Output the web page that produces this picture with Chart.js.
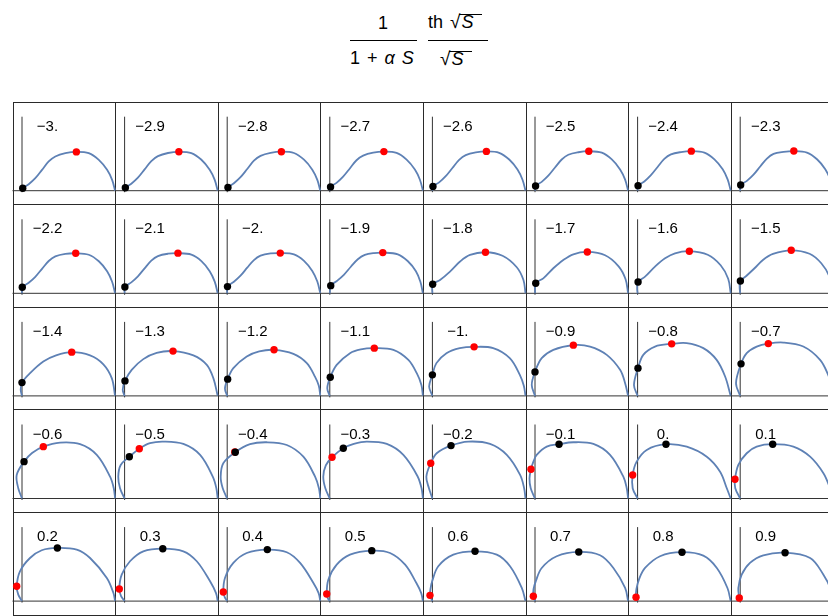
<!DOCTYPE html>
<html lang="en">
<head>
<meta charset="UTF-8">
<title>Warburg term with a first-order factor</title>
<script src="https://cdn.jsdelivr.net/npm/chart.js"></script>
<style>
    body {
        margin: 0;
        width: 828px;
        height: 616px;
        overflow: hidden;
        position: relative;
        background: #ffffff;
        font-family: 'Liberation Sans', Arial, Helvetica, sans-serif;
        color: #000;
    }
    canvas { position: absolute; }
    .gl { position: absolute; background: #2a2a2a; }
    .cell-label {
        position: absolute;
        width: 60px;
        text-align: center;
        font-size: 15px;
        line-height: 15px;
        white-space: nowrap;
    }
    /* formula heading */
    .fx { position: absolute; font-size: 18px; line-height: 20px; white-space: nowrap; word-spacing: 2px; }
    .fx i { font-style: italic; }
    .bar { position: absolute; height: 1px; background: #000; }
    .rad { font-size: 19px; }
    .ovl { position: relative; padding: 0 2px 0 1px; }
    .ovl::before {
        content: '';
        position: absolute;
        left: -1px; right: 0; top: 2px;
        border-top: 1px solid #000;
    }
</style>
</head>
<body>

<!-- heading: 1/(1+αS) · th√S/√S -->
<span class="fx" style="left:378px; top:13px">1</span>
<div class="bar" style="left:350px; top:40px; width:67px"></div>
<span class="fx" style="left:350px; top:48px">1 + <i>α</i> <i>S</i></span>

<span class="fx" style="left:428px; top:12px">th <span class="rad">√</span><span class="ovl"><i>S</i>&nbsp;</span></span>
<div class="bar" style="left:428px; top:40px; width:60px"></div>
<span class="fx" style="left:440px; top:49px"><span class="rad">√</span><span class="ovl"><i>S</i>&nbsp;</span></span>

<div id="grid"></div>

<script>
// parameter value shown in each cell
const alphaLabels = [
    '−3.', '−2.9', '−2.8', '−2.7', '−2.6', '−2.5', '−2.4', '−2.3',
    '−2.2', '−2.1', '−2.', '−1.9', '−1.8', '−1.7', '−1.6', '−1.5',
    '−1.4', '−1.3', '−1.2', '−1.1', '−1.', '−0.9', '−0.8', '−0.7',
    '−0.6', '−0.5', '−0.4', '−0.3', '−0.2', '−0.1', '0.', '0.1',
    '0.2', '0.3', '0.4', '0.5', '0.6', '0.7', '0.8', '0.9'
];

// traced curve of each cell, [re, im] pairs from the origin to 1
const curves = [
    // row 1
    [[0,0],[.008,.027],[.072,.070],[.143,.134],[.215,.224],[.287,.314],[.358,.368],[.466,.403],[.584,.417],[.717,.403],[.825,.331],[.914,.224],[.968,.116],[1,0]],
    [[0,0],[.008,.032],[.072,.075],[.143,.140],[.215,.229],[.287,.318],[.358,.371],[.466,.405],[.583,.418],[.717,.404],[.825,.332],[.914,.225],[.968,.117],[1,0]],
    [[0,0],[.008,.035],[.072,.080],[.143,.145],[.215,.233],[.287,.323],[.358,.374],[.466,.406],[.582,.419],[.717,.405],[.825,.333],[.914,.226],[.968,.117],[1,0]],
    [[0,0],[.008,.040],[.072,.084],[.143,.151],[.215,.239],[.287,.327],[.358,.377],[.466,.409],[.581,.420],[.717,.406],[.825,.334],[.914,.227],[.968,.118],[1,0]],
    [[0,0],[.006,.046],[.072,.089],[.143,.156],[.215,.244],[.287,.331],[.358,.382],[.466,.411],[.580,.422],[.717,.407],[.825,.335],[.914,.228],[.968,.118],[1,0]],
    [[0,0],[.006,.051],[.072,.095],[.143,.161],[.215,.249],[.287,.335],[.358,.386],[.466,.413],[.578,.424],[.717,.408],[.825,.336],[.914,.229],[.968,.119],[1,0]],
    [[0,0],[.005,.054],[.072,.099],[.143,.167],[.215,.255],[.287,.341],[.358,.390],[.466,.415],[.577,.425],[.717,.409],[.825,.337],[.914,.230],[.968,.119],[1,0]],
    [[0,0],[.005,.061],[.072,.106],[.143,.172],[.215,.260],[.287,.345],[.358,.395],[.466,.417],[.576,.426],[.717,.410],[.825,.338],[.914,.231],[.968,.120],[1,0]],
    // row 2
    [[0,0],[.003,.065],[.072,.113],[.143,.177],[.215,.263],[.287,.347],[.358,.396],[.466,.423],[.577,.430],[.717,.414],[.825,.344],[.914,.237],[.968,.124],[1,0]],
    [[0,0],[.003,.068],[.072,.117],[.143,.182],[.215,.268],[.287,.351],[.358,.400],[.466,.425],[.573,.431],[.717,.416],[.825,.346],[.914,.238],[.968,.125],[1,0]],
    [[0,0],[.003,.072],[.072,.124],[.143,.189],[.215,.275],[.287,.357],[.358,.404],[.466,.428],[.570,.432],[.717,.419],[.825,.349],[.914,.240],[.968,.126],[1,0]],
    [[0,0],[.010,.082],[.075,.132],[.151,.199],[.226,.285],[.301,.366],[.376,.412],[.473,.432],[.569,.437],[.731,.419],[.839,.344],[.925,.237],[.973,.124],[1,0]],
    [[0,0],[.003,.097],[.082,.143],[.189,.233],[.297,.341],[.404,.412],[.570,.441],[.753,.403],[.906,.280],[.978,.143],[1,0]],
    [[0,0],[.008,.108],[.089,.161],[.197,.269],[.304,.358],[.412,.419],[.562,.444],[.753,.409],[.898,.290],[.973,.151],[1,0]],
    [[0,0],[-.005,.054],[.005,.122],[.080,.180],[.187,.287],[.295,.376],[.402,.430],[.556,.452],[.753,.414],[.892,.301],[.973,.156],[1,0]],
    [[0,0],[-.006,.065],[.002,.132],[.065,.186],[.154,.269],[.244,.358],[.352,.423],[.548,.462],[.745,.425],[.871,.323],[.957,.183],[1,0]],
    // row 3
    [[0,0],[-.014,.065],[0,.143],[.086,.244],[.229,.369],[.366,.435],[.534,.470],[.731,.435],[.874,.339],[.965,.188],[1,0]],
    [[0,0],[-.020,.065],[.004,.161],[.076,.280],[.201,.395],[.344,.462],[.520,.481],[.739,.435],[.883,.333],[.954,.188],[1,0]],
    [[0,0],[-.024,.078],[.005,.180],[.066,.298],[.210,.423],[.344,.478],[.503,.495],[.711,.452],[.855,.352],[.944,.204],[.984,.108],[1,0]],
    [[0,0],[-.027,.083],[.005,.201],[.074,.333],[.217,.459],[.333,.500],[.478,.513],[.683,.495],[.844,.387],[.934,.244],[.984,.118],[1,0]],
    [[0,0],[-.035,.100],[0,.226],[.043,.352],[.151,.459],[.294,.513],[.448,.527],[.653,.513],[.831,.405],[.939,.226],[.982,.108],[1,0]],
    [[0,0],[-.035,.118],[0,.258],[.072,.405],[.197,.495],[.412,.545],[.591,.530],[.771,.441],[.914,.280],[.968,.137],[1,0]],
    [[0,0],[-.039,.118],[.004,.298],[.061,.441],[.187,.530],[.366,.559],[.527,.567],[.706,.513],[.849,.387],[.940,.208],[1,0]],
    [[0,0],[-.045,.137],[.009,.344],[.070,.459],[.177,.530],[.302,.562],[.463,.573],[.678,.530],[.858,.387],[.945,.226],[.984,.108],[1,0]],
    // row 4
    [[0,0],[-.040,.110],[-.057,.253],[.022,.396],[.108,.489],[.229,.557],[.409,.600],[.624,.583],[.803,.468],[.946,.234],[.986,.108],[1,0]],
    [[0,0],[-.049,.110],[-.068,.234],[-.042,.360],[.051,.449],[.158,.535],[.273,.594],[.416,.611],[.631,.586],[.811,.468],[.947,.234],[.986,.108],[1,0]],
    [[0,0],[-.048,.110],[-.070,.234],[-.042,.378],[.087,.497],[.245,.583],[.425,.604],[.640,.575],[.818,.449],[.944,.234],[.986,.108],[1,0]],
    [[0,0],[-.048,.110],[-.070,.234],[-.043,.355],[.024,.443],[.145,.540],[.258,.586],[.397,.611],[.612,.586],[.790,.468],[.941,.242],[.986,.108],[1,0]],
    [[0,0],[-.037,.110],[-.065,.234],[-.018,.378],[.046,.486],[.200,.568],[.386,.611],[.619,.586],[.799,.468],[.942,.253],[.986,.108],[1,0]],
    [[0,0],[-.046,.110],[-.059,.215],[-.043,.314],[-.016,.398],[.018,.468],[.126,.557],[.258,.583],[.412,.604],[.627,.586],[.806,.468],[.949,.234],[.986,.108],[1,0]],
    [[0,0],[-.053,.110],[-.053,.253],[-.010,.396],[.098,.522],[.305,.583],[.528,.557],[.743,.449],[.886,.288],[.958,.110],[1,0]],
    [[0,0],[-.053,.110],[-.056,.206],[-.020,.360],[.070,.486],[.177,.557],[.349,.583],[.571,.557],[.751,.449],[.894,.271],[.962,.118],[1,0]],
    // row 5
    [[0,0],[-.040,.069],[-.057,.159],[-.022,.320],[.086,.463],[.212,.546],[.380,.571],[.588,.553],[.731,.463],[.911,.248],[.982,.087],[1,0]],
    [[0,0],[-.038,.054],[-.057,.130],[-.031,.284],[.058,.428],[.201,.535],[.410,.563],[.631,.535],[.775,.428],[.918,.213],[.982,.086],[1,0]],
    [[0,0],[-.027,.043],[-.042,.098],[-.024,.248],[.066,.410],[.210,.517],[.431,.553],[.640,.525],[.783,.410],[.926,.195],[.982,.086],[1,0]],
    [[0,0],[-.022,.032],[-.033,.076],[-.016,.230],[.074,.391],[.217,.499],[.451,.542],[.647,.517],[.809,.391],[.930,.194],[.982,.086],[1,0]],
    [[0,0],[-.026,.062],[-.019,.140],[-.002,.215],[.063,.374],[.225,.499],[.458,.535],[.691,.499],[.834,.374],[.960,.141],[1,0]],
    [[0,0],[-.018,.052],[-.016,.129],[.009,.215],[.072,.356],[.233,.482],[.470,.528],[.699,.492],[.842,.356],[.968,.141],[1,0]],
    [[0,0],[-.017,.041],[-.013,.129],[.016,.237],[.080,.356],[.241,.482],[.477,.525],[.706,.488],[.851,.356],[.965,.141],[1,0]],
    [[0,0],[-.010,.033],[-.020,.141],[.016,.284],[.105,.410],[.248,.492],[.482,.520],[.751,.463],[.894,.284],[.973,.129],[1,0]]
];

// marked points on each curve
const blackDots = [
    [.008,.027],[.008,.032],[.008,.035],[.008,.040],[.006,.046],[.006,.051],[.005,.054],[.005,.061],
    [.003,.065],[.003,.068],[.003,.072],[.010,.082],[.003,.097],[.008,.108],[.005,.122],[.002,.132],
    [0,.143],[.004,.161],[.005,.180],[.005,.201],[0,.226],[0,.258],[.004,.298],[.009,.344],
    [.022,.396],[.051,.449],[.087,.497],[.145,.540],[.200,.568],[.258,.583],[.305,.583],[.349,.583],
    [.380,.571],[.410,.563],[.431,.553],[.451,.542],[.458,.535],[.470,.528],[.477,.525],[.482,.520]
];
const redDots = [
    [.584,.417],[.583,.418],[.582,.419],[.581,.420],[.580,.422],[.578,.424],[.577,.425],[.576,.426],
    [.577,.430],[.573,.431],[.570,.432],[.569,.437],[.570,.441],[.562,.444],[.556,.452],[.548,.462],
    [.534,.470],[.520,.481],[.503,.495],[.478,.513],[.448,.527],[.412,.545],[.366,.559],[.302,.562],
    [.229,.557],[.158,.535],[.081,.500],[.024,.443],[-.018,.378],[-.043,.314],[-.053,.253],[-.056,.206],
    [-.057,.159],[-.057,.130],[-.042,.098],[-.033,.076],[-.026,.062],[-.018,.052],[-.017,.041],[-.010,.033]
];

// cell layout (px)
const COLS = 8, ROWS = 5;
const GRID_LEFT = 12.5, GRID_TOP = 101.7, CELL = 102.6;
const ORIGIN_DX = 9.5, ORIGIN_DY = 89;   // origin inside a cell
const UNIT = CELL - ORIGIN_DX;           // px for one unit, same on both axes

const grid = document.getElementById('grid');

function addLine(x, y, w, h) {
    const d = document.createElement('div');
    d.className = 'gl';
    d.style.left = x + 'px';
    d.style.top = y + 'px';
    d.style.width = w + 'px';
    d.style.height = h + 'px';
    grid.appendChild(d);
}

// frame lines of the table
for (let r = 0; r <= ROWS; r++) {
    addLine(Math.round(GRID_LEFT), Math.round(GRID_TOP + r * CELL), 830, 1);
}
for (let c = 0; c <= COLS; c++) {
    addLine(Math.round(GRID_LEFT + c * CELL), Math.round(GRID_TOP), 1, Math.round(ROWS * CELL) + 1);
}

// axes through the origin of each cell
const cellAxes = {
    id: 'cellAxes',
    beforeDatasetsDraw(chart, args, opts) {
        const {ctx, scales: {x, y}} = chart;
        const x0 = x.getPixelForValue(0);
        const y0 = y.getPixelForValue(0);
        ctx.save();
        ctx.strokeStyle = '#333';
        ctx.lineWidth = 1;
        ctx.beginPath();
        ctx.moveTo(x.getPixelForValue(opts.xFrom), y0);
        ctx.lineTo(x.getPixelForValue(opts.xTo), y0);
        ctx.moveTo(x0, y.getPixelForValue(opts.yTop));
        ctx.lineTo(x0, y.getPixelForValue(opts.yBottom));
        ctx.stroke();
        ctx.restore();
    }
};

const pts = arr => arr.map(p => ({x: p[0], y: p[1]}));

curves.forEach((curve, i) => {
    const r = Math.floor(i / COLS), c = i % COLS;
    const L = GRID_LEFT + c * CELL, T = GRID_TOP + r * CELL;
    const ox = L + ORIGIN_DX, oy = T + ORIGIN_DY;

    // canvas a little wider than the cell so the curve end is not cut
    const W = 118, H = 106;
    const cl = Math.round(L) - 7, ct = Math.round(T) - 2;

    const canvas = document.createElement('canvas');
    canvas.width = W;
    canvas.height = H;
    canvas.style.left = cl + 'px';
    canvas.style.top = ct + 'px';
    document.body.appendChild(canvas);

    const label = document.createElement('div');
    label.className = 'cell-label';
    label.textContent = alphaLabels[i];
    label.style.left = (L + 35 - 30) + 'px';
    label.style.top = (T + 16) + 'px';
    document.body.appendChild(label);

    new Chart(canvas, {
        type: 'scatter',
        data: {
            datasets: [
                {   // black marker (drawn on top)
                    data: pts([blackDots[i]]),
                    backgroundColor: '#000000',
                    borderWidth: 0,
                    pointRadius: 3.7
                },
                {   // red marker
                    data: pts([redDots[i]]),
                    backgroundColor: '#ff0000',
                    borderWidth: 0,
                    pointRadius: 3.7
                },
                {   // curve
                    data: pts(curve),
                    showLine: true,
                    borderColor: '#5e81b5',
                    borderWidth: 1.8,
                    tension: 0.35,
                    pointRadius: 0,
                    fill: false
                }
            ]
        },
        options: {
            responsive: false,
            animation: false,
            events: [],
            layout: {padding: 0, autoPadding: false},
            scales: {
                x: {
                    type: 'linear', display: false,
                    min: (cl - ox) / UNIT, max: (cl + W - ox) / UNIT
                },
                y: {
                    type: 'linear', display: false,
                    min: (oy - ct - H) / UNIT, max: (oy - ct) / UNIT
                }
            },
            plugins: {
                legend: {display: false},
                tooltip: {enabled: false},
                cellAxes: {
                    xFrom: -ORIGIN_DX / UNIT, xTo: 1,
                    yTop: (ORIGIN_DY - 15) / UNIT, yBottom: -1.5 / UNIT
                }
            }
        },
        plugins: [cellAxes]
    });
});
</script>
</body>
</html>
